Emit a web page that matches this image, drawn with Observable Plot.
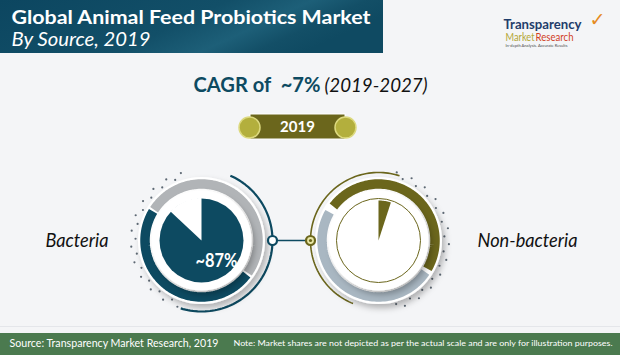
<!DOCTYPE html>
<html><head><meta charset="utf-8">
<script src="https://cdn.jsdelivr.net/npm/d3@7"></script>
<script src="https://cdn.jsdelivr.net/npm/@observablehq/plot@0.6"></script>
<style>html,body{margin:0;padding:0;background:#f4f5f7;overflow:hidden}#chart svg{display:block}</style>
</head><body><div id="chart"></div>
<script>
// ---- content / data ----
const titleLines = ["Global Animal Feed Probiotics Market", "By Source, 2019"];
const cagrLabel = "CAGR of  ~7%";
const cagrPeriod = "(2019-2027)";
const yearLabel = "2019";
const sources = ["Bacteria", "Non-bacteria"];
const shareLabels = ["~87%", ""];
const wedgeShare = [87, 5];          // % of each pie drawn in the source colour (as pictured)
const logoWords = ["Transparency", "Market", "Research", "In-depth Analysis. Accurate Results"];
const sourceNote = "Source: Transparency Market Research, 2019";
const disclaimer = "Note: Market shares are not depicted as per the actual scale and are only for illustration purposes.";

// ---- layout / style ----
const W = 620, H = 355;
const TEAL = "#0d4a61", OLIVE = "#6b661c";
const donuts = [
  {cx: 201, cy: 240, main: TEAL, bandA: "#b1b4b7", bandB: TEAL,
   aA: [-57, 125], aB: [127, 301], thin: [24, 197], thinR: 71, dots: [200, 345], outline: null},
  {cx: 378, cy: 240, main: OLIVE, bandA: OLIVE, bandB: "#a9b7c2",
   aA: [-53, 120], aB: [124, 300], thin: [202, 378], thinR: 68, dots: [15, 165], outline: OLIVE}
];
const arc = (cx, cy, r, a0, a1, step = 2) => {
  const pts = [], n = Math.max(1, Math.ceil(Math.abs(a1 - a0) / step));
  for (let i = 0; i <= n; i++) {
    const a = (a0 + (a1 - a0) * i / n) * Math.PI / 180;
    pts.push({x: cx + r * Math.sin(a), y: cy - r * Math.cos(a)});
  }
  return pts;
};
const F = "Lato, 'Open Sans', sans-serif";
const marks = [];
const txt = (s, o) => marks.push(Plot.text([s], {text: d => d, fontFamily: F, ...o}));

// title banner
marks.push(Plot.rect([0], {x1: 0, x2: 383, y1: 0, y2: 53, fill: "url(#bannerGrad)"}));
txt(titleLines[0], {x: 11, y: 17, textAnchor: "start", fill: "#ffffff", fontSize: 19, fontWeight: "bold", ariaDescription: "fit-359"});
txt(titleLines[1], {x: 11, y: 39, textAnchor: "start", fill: "#ffffff", fontSize: 19, fontStyle: "italic", ariaDescription: "fit-139"});

// logo
txt(logoWords[0], {x: 503, y: 24, textAnchor: "start", fill: "#1f3d6b", fontSize: 13.5, fontWeight: "bold", ariaDescription: "fit-78"});
txt("✓", {x: 597, y: 19, fill: "#e58a22", fontSize: 19, fontWeight: "bold", fontFamily: "DejaVu Sans"});
txt(logoWords[1], {x: 505, y: 37, textAnchor: "start", fill: "#b3a636", fontSize: 10.5, ariaDescription: "fit-29"});
txt(logoWords[2], {x: 535, y: 37, textAnchor: "start", fill: "#d13f1f", fontSize: 10.5, ariaDescription: "fit-38"});
txt(logoWords[3], {x: 505, y: 45.5, textAnchor: "start", fill: "#4a4a4a", fontSize: 4.5, ariaDescription: "fit-62"});

// CAGR
txt(cagrLabel, {x: 320, y: 85.5, textAnchor: "end", fill: TEAL, fontSize: 20, fontWeight: "bold", ariaDescription: "fit-127"});
txt(cagrPeriod, {x: 324, y: 85.5, textAnchor: "start", fill: "#111111", fontSize: 20, fontStyle: "italic", ariaDescription: "fit-103"});

// year badge
marks.push(Plot.rect([0], {x1: 250, x2: 345, y1: 114, y2: 139, fill: OLIVE, stroke: "#ffffff", strokeWidth: 1}));
marks.push(Plot.dot([249, 345], {x: d => d, y: 127, r: 10.5, fill: "#b3af3d", stroke: "#dcd97f", strokeWidth: 1.5}));
txt(yearLabel, {x: 297, y: 127, fill: "#ffffff", fontSize: 15, fontWeight: "bold"});

// donuts
donuts.forEach((d, i) => {
  // dotted arc
  const dots = [];
  for (let a = d.dots[0], k = 0; a <= d.dots[1]; a += 6.5, k++) dots.push(arc(d.cx, d.cy, k % 2 ? 66 : 70.5, a, a)[0]);
  marks.push(Plot.dot(dots, {x: "x", y: "y", r: 1.1, fill: "#5d6873"}));
  // thin outer arc
  marks.push(Plot.line(arc(d.cx, d.cy, d.thinR, d.thin[0], d.thin[1]), {x: "x", y: "y", stroke: d.main, strokeWidth: i ? 1.6 : 2.2, strokeLinecap: "butt"}));
  // raised outer disk
  marks.push(Plot.dot([d], {x: "cx", y: "cy", r: 63.5, fill: "#ffffff", ariaDescription: "shadow"}));
  // band
  marks.push(Plot.line(arc(d.cx, d.cy, 56.5, d.aA[0], d.aA[1]), {x: "x", y: "y", stroke: d.bandA, strokeWidth: 9.5, strokeLinecap: "butt"}));
  marks.push(Plot.line(arc(d.cx, d.cy, 56.5, d.aB[0], d.aB[1]), {x: "x", y: "y", stroke: d.bandB, strokeWidth: 9.5, strokeLinecap: "butt"}));
  // inner raised disk
  marks.push(Plot.dot([d], {x: "cx", y: "cy", r: 50, fill: "#ffffff", ariaDescription: "shadow"}));
  // pie: coloured share from 12 o'clock clockwise; remainder white
  const end = 360 * wedgeShare[i] / 100;
  if (i === 0) {
    marks.push(Plot.dot([d], {x: "cx", y: "cy", r: 42, fill: d.main}));
    const rest = [{x: d.cx, y: d.cy}, ...arc(d.cx, d.cy, 42.5, end, 360, 1), {x: d.cx, y: d.cy}];
    marks.push(Plot.line(rest, {x: "x", y: "y", fill: "#ffffff", stroke: "none"}));
  } else {
    marks.push(Plot.dot([d], {x: "cx", y: "cy", r: 42, fill: "#ffffff", stroke: d.outline, strokeWidth: 1}));
    const wedge = [{x: d.cx, y: d.cy}, ...arc(d.cx, d.cy, 40, 0, end, 1), {x: d.cx, y: d.cy}];
    marks.push(Plot.line(wedge, {x: "x", y: "y", fill: d.main, stroke: "none"}));
  }
  // label
  txt(sources[i], i === 0
    ? {x: 108, y: 240, textAnchor: "end", fill: "#111111", fontSize: 19, fontStyle: "italic", ariaDescription: "fit-63"}
    : {x: 477, y: 240, textAnchor: "start", fill: "#111111", fontSize: 19, fontStyle: "italic", ariaDescription: "fit-100"});
  if (shareLabels[i]) txt(shareLabels[i], {x: 216, y: 261, fill: "#ffffff", fontSize: 18, fontWeight: "bold", ariaDescription: "fit-42"});
});

// connector
marks.push(Plot.line([{x: 272, y: 240}, {x: 310, y: 240}], {x: "x", y: "y", stroke: TEAL, strokeWidth: 1.6}));
marks.push(Plot.dot([0], {x: 272, y: 240, r: 4.5, fill: "#ffffff", stroke: TEAL, strokeWidth: 2.2}));
marks.push(Plot.dot([0], {x: 310, y: 240, r: 4.5, fill: "#e9e7a6", stroke: OLIVE, strokeWidth: 2.2}));
marks.push(Plot.dot([0], {x: 310, y: 240, r: 1.6, fill: OLIVE}));

// footer
marks.push(Plot.rect([0], {x1: 0, x2: W, y1: 326, y2: 327, fill: "#e4e6ea"}));
marks.push(Plot.rect([0], {x1: 0, x2: W, y1: 333, y2: H, fill: "#4b7a4f"}));
txt(sourceNote, {x: 9, y: 343, textAnchor: "start", fill: "#ffffff", fontSize: 11.5, ariaDescription: "fit-209"});
txt(disclaimer, {x: 233, y: 343, textAnchor: "start", fill: "#ffffff", fontSize: 8.3, ariaDescription: "fit-379"});

const svg = Plot.plot({
  width: W, height: H, margin: 0,
  x: {domain: [0, W], range: [0, W], axis: null},
  y: {domain: [0, H], range: [0, H], axis: null},
  style: {background: "#f4f5f7", fontFamily: F},
  marks
});

// defs: gradient + shadow filter
const defs = d3.create("svg:defs");
const g = defs.append("linearGradient").attr("id", "bannerGrad").attr("x1", "0%").attr("y1", "0%").attr("x2", "100%").attr("y2", "30%");
[["0%", "#0c4660"], ["55%", "#124f68"], ["75%", "#1d5f78"], ["88%", "#134f67"], ["100%", "#0f4a62"]]
  .forEach(([o, c]) => g.append("stop").attr("offset", o).attr("stop-color", c));
const f = defs.append("filter").attr("id", "softShadow").attr("x", "-30%").attr("y", "-30%").attr("width", "160%").attr("height", "160%");
f.append("feDropShadow").attr("dx", 3).attr("dy", 4).attr("stdDeviation", 3).attr("flood-color", "#000").attr("flood-opacity", 0.28);
svg.insertBefore(defs.node(), svg.firstChild);
svg.querySelectorAll('[aria-description="shadow"]').forEach(n => n.setAttribute("filter", "url(#softShadow)"));
svg.querySelectorAll('[aria-description^="fit-"]').forEach(n => {
  const w = n.getAttribute("aria-description").slice(4);
  n.querySelectorAll("text").forEach(t => { t.setAttribute("textLength", w); t.setAttribute("lengthAdjust", "spacingAndGlyphs"); });
});
document.getElementById("chart").appendChild(svg);
</script>
</body></html>
